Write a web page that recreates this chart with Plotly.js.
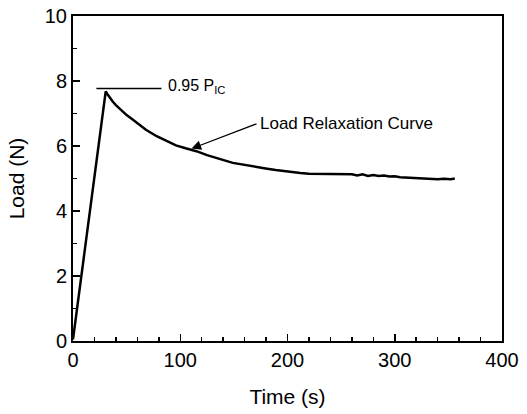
<!DOCTYPE html>
<html>
<head>
<meta charset="utf-8">
<script src="https://cdn.plot.ly/plotly-3.0.1.min.js"></script>
<style>html,body{margin:0;padding:0;background:#fff;}#chart{width:527px;height:414px;}</style>
</head>
<body>
<div id="chart"></div>
<script>
// Time (s)
const timeS = [0, 2, 5, 8, 11, 14, 17, 20, 23, 26, 28.5, 30.5,
  32, 34, 37, 40, 44, 50, 55, 60, 68, 78, 87, 96, 105, 115, 125, 134, 142, 149, 157, 165, 173, 181, 189, 196, 204, 212, 220, 230, 240, 248, 255, 260, 265, 270, 275, 280, 285, 290, 295, 300, 305, 311, 318, 325, 332, 340, 346, 352, 356];
// Load (N)
const loadN = [0.05, 0.55, 1.3, 2.0, 2.75, 3.5, 4.25, 5.0, 5.75, 6.5, 7.15, 7.68,
  7.6, 7.5, 7.37, 7.26, 7.13, 6.95, 6.83, 6.7, 6.5, 6.3, 6.15, 6.02, 5.93, 5.84, 5.72, 5.62, 5.55, 5.48, 5.43, 5.38, 5.33, 5.3, 5.26, 5.23, 5.19, 5.17, 5.15, 5.14, 5.13, 5.14, 5.12, 5.13, 5.09, 5.13, 5.08, 5.11, 5.08, 5.09, 5.06, 5.07, 5.04, 5.03, 5.02, 5.0, 5.01, 4.98, 4.99, 4.98, 5.0];
const xTicks = [0, 100, 200, 300, 400];
const yTicks = [0, 2, 4, 6, 8, 10];
// annotation anchors (data units)
const peakLevel = 7.77;
const peakLineT = [21.8, 82.5];
const arrowTip = [110.5, 5.92];
const arrowTail = [172.5, 6.70];

const font = {family: 'Liberation Sans, Arial, sans-serif', color: '#000'};

const trace = {
  x: timeS, y: loadN, type: 'scatter', mode: 'lines',
  line: {color: '#000', width: 2.5}, hoverinfo: 'skip'
};

const axisCommon = {
  showline: true, linecolor: '#000', linewidth: 2, mirror: true,
  ticks: 'inside', ticklen: 7, tickwidth: 1.5, tickcolor: '#000',
  showgrid: false, zeroline: false, tickfont: Object.assign({size: 20}, font)
};

const layout = {
  width: 527, height: 414,
  margin: {l: 73, r: 25, t: 16, b: 73},
  paper_bgcolor: '#fff', plot_bgcolor: '#fff',
  showlegend: false,
  xaxis: Object.assign({}, axisCommon, {
    range: [0, 400], tickvals: xTicks, ticktext: xTicks.map(String),
    minor: {dtick: 20, ticks: 'inside', ticklen: 4, tickwidth: 1.5, tickcolor: '#000', showgrid: false},
    title: {text: 'Time (s)', font: Object.assign({size: 21}, font), standoff: 19}
  }),
  yaxis: Object.assign({}, axisCommon, {
    range: [0, 10], tickvals: yTicks, ticktext: yTicks.map(String),
    minor: {dtick: 1, ticks: 'inside', ticklen: 4, tickwidth: 1.5, tickcolor: '#000', showgrid: false},
    title: {text: 'Load (N)', font: Object.assign({size: 21}, font), standoff: 14}
  }),
  shapes: [{
    type: 'line', xref: 'x', yref: 'y',
    x0: peakLineT[0], x1: peakLineT[1], y0: peakLevel, y1: peakLevel,
    line: {color: '#000', width: 1.3}
  }],
  annotations: [
    {
      xref: 'x', yref: 'y', x: peakLineT[1], y: peakLevel,
      xanchor: 'left', yanchor: 'middle', xshift: 5, yshift: 2,
      text: '0.95 P<sub>IC</sub>', showarrow: false,
      font: Object.assign({size: 16}, font)
    },
    {
      xref: 'x', yref: 'y', x: arrowTail[0], y: arrowTail[1],
      xanchor: 'left', yanchor: 'middle', xshift: 0,
      text: 'Load Relaxation Curve', showarrow: false,
      font: Object.assign({size: 17}, font)
    },
    {
      xref: 'x', yref: 'y', x: arrowTip[0], y: arrowTip[1],
      axref: 'x', ayref: 'y', ax: arrowTail[0], ay: arrowTail[1],
      text: '', showarrow: true, arrowhead: 2, arrowsize: 1.6, arrowwidth: 1.2,
      arrowcolor: '#000', standoff: 0, startstandoff: 0
    }
  ]
};

Plotly.newPlot('chart', [trace], layout, {displayModeBar: false, staticPlot: true});
</script>
</body>
</html>
